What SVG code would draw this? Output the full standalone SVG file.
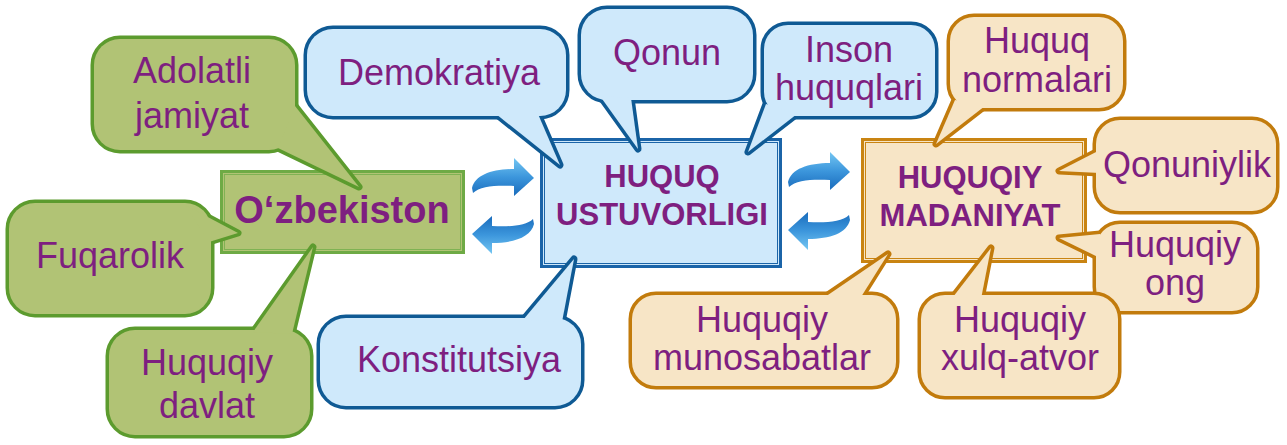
<svg xmlns="http://www.w3.org/2000/svg" xmlns:xlink="http://www.w3.org/1999/xlink" width="1287" height="445" viewBox="0 0 1287 445">
<style>
.gs{fill:#b1c375;stroke:#5c9b2e;stroke-width:7;stroke-linejoin:round}
.gf{fill:#b1c375;stroke:none}
.bs{fill:#cfe9fb;stroke:#0f5a94;stroke-width:7;stroke-linejoin:round}
.bf{fill:#cfe9fb;stroke:none}
.os{fill:#f7e5c6;stroke:#c27b0c;stroke-width:7;stroke-linejoin:round}
.of{fill:#f7e5c6;stroke:none}
.t{font-family:"Liberation Sans",Arial,sans-serif;font-size:36px;fill:#7e1f80;text-anchor:middle}
.b{font-weight:bold;font-size:31px}
.arr{fill:url(#ag)}
</style>
<defs>
<linearGradient id="ag" x1="0" y1="0" x2="0" y2="1">
<stop offset="0" stop-color="#74c6f2"/>
<stop offset="0.5" stop-color="#3c96dc"/>
<stop offset="1" stop-color="#1a6cbc"/>
</linearGradient>
<path id="arrow" d="M0,30 C3,17 20,11 42,11 L42,0 L62,20 L42,38 L42,28 C25,27 8,28 1,35 Z"/>
<g id="s-adol"><rect x="94" y="39" width="201" height="111" rx="26"/><polygon points="295,106 359,187 278,148"/></g>
<g id="s-fuq"><rect x="9" y="203" width="202" height="111" rx="26"/><polygon points="185,205 238,233 209,242"/></g>
<g id="s-hdav"><rect x="109" y="330" width="201" height="105" rx="26"/><polygon points="253,332 313,247 292,334"/></g>
<g id="s-dem"><rect x="307" y="29" width="259" height="87" rx="26"/><polygon points="496,114 560,165 538,114"/></g>
<g id="s-qon"><rect x="581" y="9" width="172" height="91" rx="26"/><polygon points="600,96 638,149 631,98"/></g>
<g id="s-ins"><rect x="764" y="25" width="171" height="91" rx="24"/><polygon points="766,104 748,152 797,114"/></g>
<g id="s-kon"><rect x="320" y="318" width="261" height="88" rx="26"/><polygon points="523,320 574,259 562,322"/></g>
<g id="s-norm"><rect x="950" y="17" width="173" height="91" rx="24"/><polygon points="955,100 936,144 985,106"/></g>
<g id="s-qnn"><rect x="1096" y="120" width="180" height="91" rx="24"/><polygon points="1100,150 1059,171 1100,173"/></g>
<g id="s-ong"><rect x="1096" y="224" width="160" height="87" rx="24"/><polygon points="1100,234 1059,238 1100,258"/></g>
<g id="s-xulq"><rect x="921" y="295" width="197" height="101" rx="24"/><polygon points="953,297 991,248 981,299"/></g>
<g id="s-mun"><rect x="632" y="295" width="264" height="91" rx="24"/><polygon points="825,297 888,254 861,297"/></g>
</defs>
<rect width="1287" height="445" fill="#ffffff"/>

<g id="connectors">
<use xlink:href="#arrow" class="arr" transform="translate(472,158)"/>
<use xlink:href="#arrow" class="arr" transform="translate(534,254) rotate(180)"/>
<use xlink:href="#arrow" class="arr" transform="translate(788,152)"/>
<use xlink:href="#arrow" class="arr" transform="translate(850,250) rotate(180)"/>
</g>

<g id="n-uzb">
<rect x="221.5" y="171.5" width="242" height="81" fill="#b1c375" stroke="#6eaa45" stroke-width="3"/>
<rect x="224.5" y="174.5" width="236" height="75" fill="none" stroke="#7fb253" stroke-width="1"/>
<text class="t b" x="342" y="223" style="font-size:38px">O‘zbekiston</text>
</g>
<g id="n-huquq">
<rect x="541.5" y="139.5" width="239" height="127" fill="#cfe9fb" stroke="#1b64a8" stroke-width="3"/>
<rect x="544.5" y="142.5" width="233" height="121" fill="none" stroke="#1b64a8" stroke-width="1"/>
<text class="t b" x="662" y="187">HUQUQ</text>
<text class="t b" x="662" y="225">USTUVORLIGI</text>
</g>
<g id="n-madan">
<rect x="862.5" y="139.5" width="223" height="122" fill="#f7e5c6" stroke="#c98412" stroke-width="3"/>
<rect x="865.5" y="142.5" width="217" height="116" fill="none" stroke="#c98412" stroke-width="1"/>
<text class="t b" x="970" y="188">HUQUQIY</text>
<text class="t b" x="970" y="226">MADANIYAT</text>
</g>

<g id="n-adolatli"><use xlink:href="#s-adol" class="gs"/><use xlink:href="#s-adol" class="gf"/>
<text class="t" x="192" y="83">Adolatli</text><text class="t" x="192" y="128">jamiyat</text></g>
<g id="n-fuqarolik"><use xlink:href="#s-fuq" class="gs"/><use xlink:href="#s-fuq" class="gf"/>
<text class="t" x="110" y="268">Fuqarolik</text></g>
<g id="n-davlat"><use xlink:href="#s-hdav" class="gs"/><use xlink:href="#s-hdav" class="gf"/>
<text class="t" x="207" y="375">Huquqiy</text><text class="t" x="207" y="418">davlat</text></g>

<g id="n-demokratiya"><use xlink:href="#s-dem" class="bs"/><use xlink:href="#s-dem" class="bf"/>
<text class="t" x="439" y="85">Demokratiya</text></g>
<g id="n-qonun"><use xlink:href="#s-qon" class="bs"/><use xlink:href="#s-qon" class="bf"/>
<text class="t" x="667" y="65">Qonun</text></g>
<g id="n-inson"><use xlink:href="#s-ins" class="bs"/><use xlink:href="#s-ins" class="bf"/>
<text class="t" x="849" y="62">Inson</text><text class="t" x="849" y="100">huquqlari</text></g>
<g id="n-konstitutsiya"><use xlink:href="#s-kon" class="bs"/><use xlink:href="#s-kon" class="bf"/>
<text class="t" x="459" y="372">Konstitutsiya</text></g>

<g id="n-normalari"><use xlink:href="#s-norm" class="os"/><use xlink:href="#s-norm" class="of"/>
<text class="t" x="1037" y="53">Huquq</text><text class="t" x="1037" y="92">normalari</text></g>
<g id="n-qonuniylik"><use xlink:href="#s-qnn" class="os"/><use xlink:href="#s-qnn" class="of"/>
<text class="t" x="1187" y="177">Qonuniylik</text></g>
<g id="n-ong"><use xlink:href="#s-ong" class="os"/><use xlink:href="#s-ong" class="of"/>
<text class="t" x="1175" y="257">Huquqiy</text><text class="t" x="1175" y="295">ong</text></g>
<g id="n-xulq"><use xlink:href="#s-xulq" class="os"/><use xlink:href="#s-xulq" class="of"/>
<text class="t" x="1020" y="332">Huquqiy</text><text class="t" x="1020" y="370">xulq-atvor</text></g>
<g id="n-munosabatlar"><use xlink:href="#s-mun" class="os"/><use xlink:href="#s-mun" class="of"/>
<text class="t" x="762" y="332">Huquqiy</text><text class="t" x="762" y="370">munosabatlar</text></g>
</svg>
